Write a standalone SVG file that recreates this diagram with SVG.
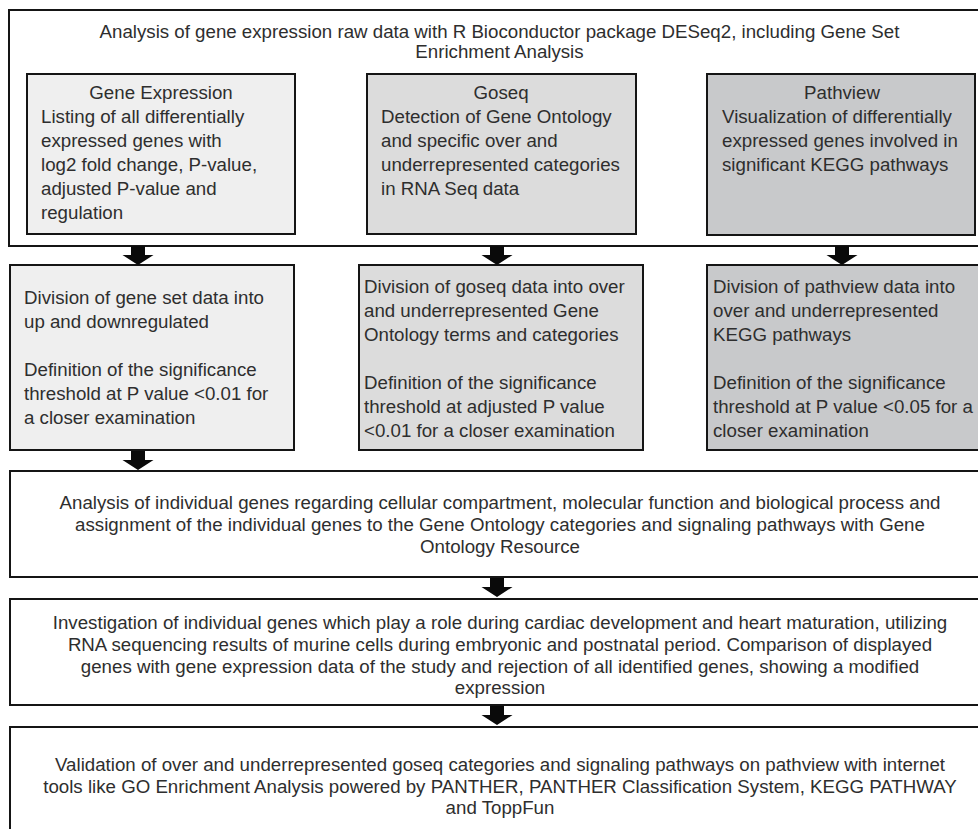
<svg xmlns="http://www.w3.org/2000/svg" width="978" height="829" viewBox="0 0 978 829">
<style>
  text { font-family: "Liberation Sans", Arial, Helvetica, sans-serif; font-size: 18.7px; fill: #2e2e2e; }
  .c { text-anchor: middle; }
  .box { stroke: #151515; stroke-width: 2; }
  .white { fill: #ffffff; }
  .g1 { fill: #efefef; }
  .g2 { fill: #dcdcdc; }
  .g3 { fill: #c8c9cb; }
  .arrow { fill: #0a0a0a; }
</style>
<defs>
  <path id="arr" d="M -7 0 H 7 V 9 H 15.5 L 0 19 L -15.5 9 H -7 Z"/>
</defs>
<rect width="978" height="829" fill="#ffffff"/>

<g id="top">
  <rect class="box white" x="9" y="10" width="990" height="236"/>
  <text class="c" x="499.5" y="38">Analysis of gene expression raw data with R Bioconductor package DESeq2, including Gene Set</text>
  <text class="c" x="499.5" y="58">Enrichment Analysis</text>
</g>

<g id="gene-expression">
  <rect class="box g1" x="27" y="74" width="268" height="160"/>
  <text class="c" x="161" y="99">Gene Expression</text>
  <text x="41" y="123">Listing of all differentially</text>
  <text x="41" y="147">expressed genes with</text>
  <text x="41" y="171">log2 fold change, P-value,</text>
  <text x="41" y="195">adjusted P-value and</text>
  <text x="41" y="219">regulation</text>
</g>

<g id="goseq">
  <rect class="box g2" x="367" y="74" width="269" height="160"/>
  <text class="c" x="501" y="99">Goseq</text>
  <text x="381" y="123">Detection of Gene Ontology</text>
  <text x="381" y="147">and specific over and</text>
  <text x="381" y="171">underrepresented categories</text>
  <text x="381" y="195">in RNA Seq data</text>
</g>

<g id="pathview">
  <rect class="box g3" x="707" y="74" width="268" height="161"/>
  <text class="c" x="842" y="99">Pathview</text>
  <text x="722" y="123">Visualization of differentially</text>
  <text x="722" y="147">expressed genes involved in</text>
  <text x="722" y="171">significant KEGG pathways</text>
</g>

<g id="gene-division">
  <rect class="box g1" x="10" y="265" width="284" height="185"/>
  <text x="24" y="304">Division of gene set data into</text>
  <text x="24" y="328">up and downregulated</text>
  <text x="24" y="376">Definition of the significance</text>
  <text x="24" y="400">threshold at P value &lt;0.01 for</text>
  <text x="24" y="424">a closer examination</text>
</g>

<g id="goseq-division">
  <rect class="box g2" x="359" y="265" width="284" height="185"/>
  <text x="364" y="293">Division of goseq data into over</text>
  <text x="364" y="317">and underrepresented Gene</text>
  <text x="364" y="341">Ontology terms and categories</text>
  <text x="364" y="389">Definition of the significance</text>
  <text x="364" y="413">threshold at adjusted P value</text>
  <text x="364" y="437">&lt;0.01 for a closer examination</text>
</g>

<g id="pathview-division">
  <rect class="box g3" x="707" y="265" width="290" height="185"/>
  <text x="713" y="293">Division of pathview data into</text>
  <text x="713" y="317">over and underrepresented</text>
  <text x="713" y="341">KEGG pathways</text>
  <text x="713" y="389">Definition of the significance</text>
  <text x="713" y="413">threshold at P value &lt;0.05 for a</text>
  <text x="713" y="437">closer examination</text>
</g>

<g id="go-analysis">
  <rect class="box white" x="10" y="471" width="990" height="106"/>
  <text class="c" x="500" y="509">Analysis of individual genes regarding cellular compartment, molecular function and biological process and</text>
  <text class="c" x="500" y="531">assignment of the individual genes to the Gene Ontology categories and signaling pathways with Gene</text>
  <text class="c" x="500" y="553">Ontology Resource</text>
</g>

<g id="investigation">
  <rect class="box white" x="10" y="599" width="990" height="106"/>
  <text class="c" x="500" y="629">Investigation of individual genes which play a role during cardiac development and heart maturation, utilizing</text>
  <text class="c" x="500" y="651">RNA sequencing results of murine cells during embryonic and postnatal period. Comparison of displayed</text>
  <text class="c" x="500" y="673">genes with gene expression data of the study and rejection of all identified genes, showing a modified</text>
  <text class="c" x="500" y="694">expression</text>
</g>

<g id="validation">
  <rect class="box white" x="10" y="727" width="990" height="130"/>
  <text class="c" x="500" y="771">Validation of over and underrepresented goseq categories and signaling pathways on pathview with internet</text>
  <text class="c" x="500" y="793">tools like GO Enrichment Analysis powered by PANTHER, PANTHER Classification System, KEGG PATHWAY</text>
  <text class="c" x="500" y="814">and ToppFun</text>
</g>

<g id="connectors" class="arrow">
  <use href="#arr" x="138" y="246"/>
  <use href="#arr" x="497" y="246"/>
  <use href="#arr" x="842" y="246"/>
  <use href="#arr" x="138" y="451"/>
  <use href="#arr" x="497" y="578"/>
  <use href="#arr" x="497" y="706"/>
</g>
</svg>
